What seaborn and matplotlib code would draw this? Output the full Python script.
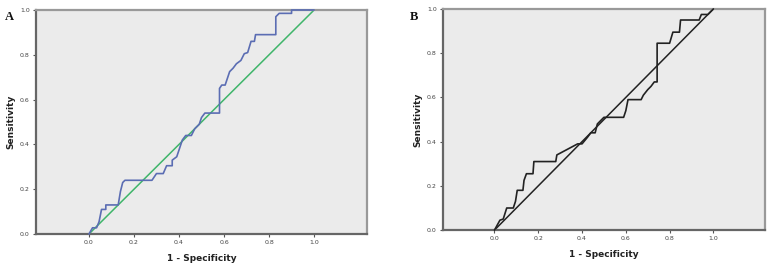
import numpy as np
import pandas as pd
import matplotlib
matplotlib.use('Agg')
import matplotlib.pyplot as plt
import seaborn as sns

# ROC curve A (1 - specificity, sensitivity)
fpr_a = [0.0, 0.016, 0.034, 0.045, 0.056, 0.075, 0.075, 0.13, 0.14, 0.15, 0.16, 0.28, 0.30, 0.33,
         0.345, 0.37, 0.37, 0.39, 0.40, 0.415, 0.43, 0.455, 0.47, 0.49, 0.50, 0.515, 0.58, 0.58,
         0.59, 0.605, 0.625, 0.64, 0.655, 0.675, 0.69, 0.705, 0.72, 0.735, 0.74, 0.83, 0.83,
         0.845, 0.90, 0.90, 1.0]
tpr_a = [0.0, 0.028, 0.028, 0.055, 0.11, 0.11, 0.13, 0.13, 0.19, 0.23, 0.24, 0.24, 0.27, 0.27,
         0.305, 0.305, 0.33, 0.345, 0.375, 0.42, 0.44, 0.44, 0.47, 0.49, 0.52, 0.54, 0.54, 0.65,
         0.665, 0.665, 0.725, 0.74, 0.76, 0.775, 0.805, 0.81, 0.86, 0.86, 0.89, 0.89, 0.97,
         0.985, 0.985, 1.0, 1.0]

# ROC curve B
fpr_b = [0.0, 0.025, 0.04, 0.056, 0.086, 0.096, 0.104, 0.13, 0.135, 0.146, 0.176, 0.18, 0.28,
         0.285, 0.38, 0.40, 0.425, 0.44, 0.46, 0.47, 0.50, 0.59, 0.60, 0.61, 0.67, 0.68, 0.70,
         0.715, 0.73, 0.743, 0.743, 0.80, 0.815, 0.845, 0.85, 0.935, 0.945, 0.975, 1.0]
tpr_b = [0.0, 0.045, 0.05, 0.10, 0.10, 0.13, 0.18, 0.18, 0.225, 0.255, 0.255, 0.31, 0.31,
         0.34, 0.39, 0.39, 0.42, 0.44, 0.44, 0.48, 0.51, 0.51, 0.54, 0.59, 0.59, 0.61, 0.635,
         0.65, 0.67, 0.67, 0.845, 0.845, 0.895, 0.895, 0.95, 0.95, 0.975, 0.975, 1.0]

ref_line = [0.0, 1.0]
ticks = [0.0, 0.2, 0.4, 0.6, 0.8, 1.0]

sns.set_style('white', {'axes.facecolor': '#ebebeb'})
plt.rcParams['font.family'] = ['DejaVu Sans']

fig = plt.figure(figsize=(7.71, 2.63), dpi=100)
ax1 = fig.add_axes([0.0467, 0.110, 0.4293, 0.852])
ax2 = fig.add_axes([0.5746, 0.125, 0.4174, 0.841])

panels = [
    (ax1, fpr_a, tpr_a, '#5b6db3', '#3fb56a', 'A', 0.006, 0.925),
    (ax2, fpr_b, tpr_b, '#222222', '#222222', 'B', 0.532, 0.925),
]

for ax, fx, ty, c_curve, c_ref, letter, lx, ly in panels:
    df = pd.DataFrame({'fpr': fx, 'tpr': ty})
    ref = pd.DataFrame({'x': ref_line, 'y': ref_line})
    sns.lineplot(data=ref, x='x', y='y', ax=ax, color=c_ref, lw=1.1, sort=False, estimator=None)
    sns.lineplot(data=df, x='fpr', y='tpr', ax=ax, color=c_curve, lw=1.2, sort=False,
                 estimator=None, clip_on=False, zorder=3)
    ax.set_xlim(-0.235, 1.235)
    ax.set_ylim(0, 1.0)
    ax.set_xticks(ticks)
    ax.set_yticks(ticks)
    ax.set_xticklabels([f'{t:.1f}' for t in ticks], fontsize=4.5, color='#444444')
    ax.set_yticklabels([f'{t:.1f}' for t in ticks], fontsize=4.5, color='#444444')
    ax.tick_params(axis='both', direction='out', length=2.5, width=0.8, color='#555555', pad=2,
                   bottom=True, left=True)
    ax.set_xlabel('1 - Specificity', fontsize=6.5, fontweight='bold', color='#222222', labelpad=6)
    ax.set_ylabel('Sensitivity', fontsize=6.5, fontweight='bold', color='#222222', labelpad=3)
    for s in ['left', 'bottom']:
        ax.spines[s].set_color('#666666')
        ax.spines[s].set_linewidth(1.6)
    for s in ['top', 'right']:
        ax.spines[s].set_color('#999999')
        ax.spines[s].set_linewidth(1.6)
    fig.text(lx, ly, letter, fontsize=9, fontweight='bold', family='Liberation Serif', color='#111111')

fig.savefig('out.png', dpi=100)
